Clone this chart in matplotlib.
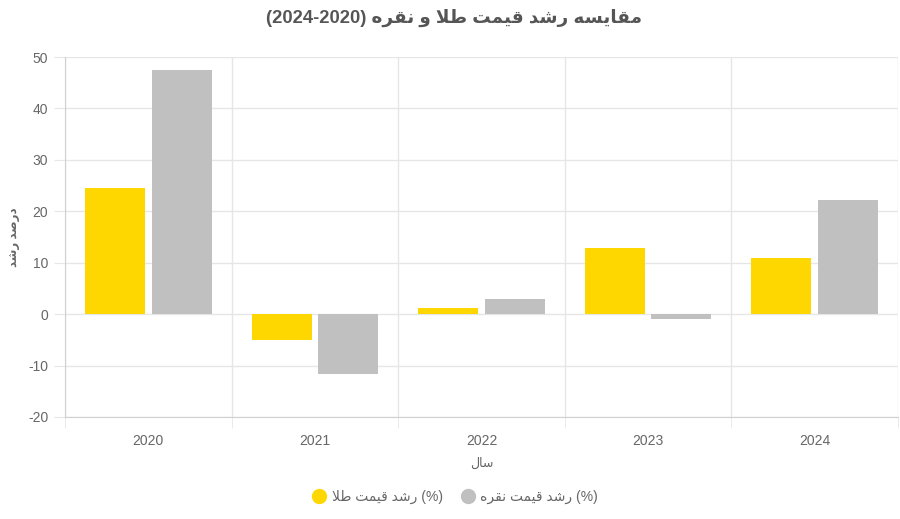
import matplotlib
matplotlib.use("Agg")
from matplotlib import pyplot as plt
from matplotlib.lines import Line2D
import numpy as np

years = ["2020", "2021", "2022", "2023", "2024"]
gold = [24.5, -5.0, 1.2, 12.8, 10.9]
silver = [47.5, -11.7, 2.9, -1.0, 22.2]
y_ticks = [-20, -10, 0, 10, 20, 30, 40, 50]

# matplotlib does not shape Arabic script, so pick presentation forms by hand
# (isolated, final, initial, medial); letters with two forms never join forward
FORMS = {
    'ا': ('\uFE8D', '\uFE8E'),
    'د': ('\uFEA9', '\uFEAA'),
    'ر': ('\uFEAD', '\uFEAE'),
    'و': ('\uFEED', '\uFEEE'),
    'ت': ('\uFE95', '\uFE96', '\uFE97', '\uFE98'),
    'س': ('\uFEB1', '\uFEB2', '\uFEB3', '\uFEB4'),
    'ش': ('\uFEB5', '\uFEB6', '\uFEB7', '\uFEB8'),
    'ص': ('\uFEB9', '\uFEBA', '\uFEBB', '\uFEBC'),
    'ط': ('\uFEC1', '\uFEC2', '\uFEC3', '\uFEC4'),
    'ق': ('\uFED5', '\uFED6', '\uFED7', '\uFED8'),
    'ل': ('\uFEDD', '\uFEDE', '\uFEDF', '\uFEE0'),
    'م': ('\uFEE1', '\uFEE2', '\uFEE3', '\uFEE4'),
    'ن': ('\uFEE5', '\uFEE6', '\uFEE7', '\uFEE8'),
    'ه': ('\uFEE9', '\uFEEA', '\uFEEB', '\uFEEC'),
    'ی': ('\uFBFC', '\uFBFD', '\uFBFE', '\uFBFF'),
}


def fa(text):
    out = []
    i = 0
    while i < len(text):
        ch = text[i]
        prev = text[i - 1] if i > 0 else ' '
        joins_prev = prev in FORMS and len(FORMS[prev]) == 4
        if ch not in FORMS:
            out.append(ch)
            i += 1
            continue
        # lam + alef ligature
        if ch == 'ل' and i + 1 < len(text) and text[i + 1] == 'ا':
            out.append('\uFEFC' if joins_prev else '\uFEFB')
            i += 2
            continue
        nxt = text[i + 1] if i + 1 < len(text) else ' '
        joins_next = len(FORMS[ch]) == 4 and nxt in FORMS
        f = FORMS[ch]
        if joins_prev and joins_next:
            out.append(f[3])
        elif joins_prev:
            out.append(f[1])
        elif joins_next:
            out.append(f[2])
        else:
            out.append(f[0])
        i += 1
    return ''.join(reversed(out))


plt.rcParams['font.family'] = ['Liberation Sans', 'DejaVu Sans']
plt.rcParams['axes.unicode_minus'] = False

fig = plt.figure(figsize=(9, 5.19), dpi=100)
ax = fig.add_axes([65 / 900, 1 - 417 / 519, 833 / 900, 360 / 519])

x = np.arange(len(years))
ax.bar(x - 0.2, gold, width=0.36, color='#FFD700', zorder=3)
ax.bar(x + 0.2, silver, width=0.36, color='#C0C0C0', zorder=3)

ax.set_xlim(-0.5, len(years) - 0.5)
ax.set_ylim(-20, 50)
ax.set_yticks(y_ticks)
ax.set_xticks(x, years)
ax.set_xticks(np.arange(len(years) + 1) - 0.5, minor=True)

grid_c = '#e6e6e6'
ax.grid(True, axis='y', color=grid_c, linewidth=1, zorder=0)
ax.grid(True, axis='x', which='minor', color=grid_c, linewidth=1, zorder=0)
ax.tick_params(axis='y', length=8, color=grid_c, labelcolor='#666666', labelsize=10, pad=4)
ax.tick_params(axis='x', which='major', length=0, labelcolor='#666666', labelsize=10, pad=12)
ax.tick_params(axis='x', which='minor', length=8, color=grid_c)

for side in ['top', 'right']:
    ax.spines[side].set_visible(False)
for side in ['left', 'bottom']:
    ax.spines[side].set_color('#d0d0d0')

ax.set_ylabel(fa('درصد رشد'), fontsize=8.5, color='#666666', fontweight='bold')
ax.yaxis.set_label_coords(-51 / 833, 0.5)
ax.yaxis.label.set_va('center')
ax.set_xlabel(fa('سال'), fontsize=9, color='#666666', labelpad=7)

fig.text(0.505, 1 - 18 / 519, '(2024-2020) ' + fa('مقایسه رشد قیمت طلا و نقره'),
         ha='center', va='center', fontsize=13.2, fontweight='bold', color='#555555')

handles = [
    Line2D([], [], marker='o', linestyle='', markersize=10, color='#FFD700'),
    Line2D([], [], marker='o', linestyle='', markersize=10, color='#C0C0C0'),
]
labels = [fa('رشد قیمت طلا') + ' (%)', fa('رشد قیمت نقره') + ' (%)']
fig.legend(handles, labels, loc='center', bbox_to_anchor=(0.505, 1 - 497 / 519), ncol=2,
           frameon=False, fontsize=10, labelcolor='#666666', handletextpad=0.3,
           columnspacing=1.2, handlelength=1.2)

plt.savefig("out.png", dpi=100)
